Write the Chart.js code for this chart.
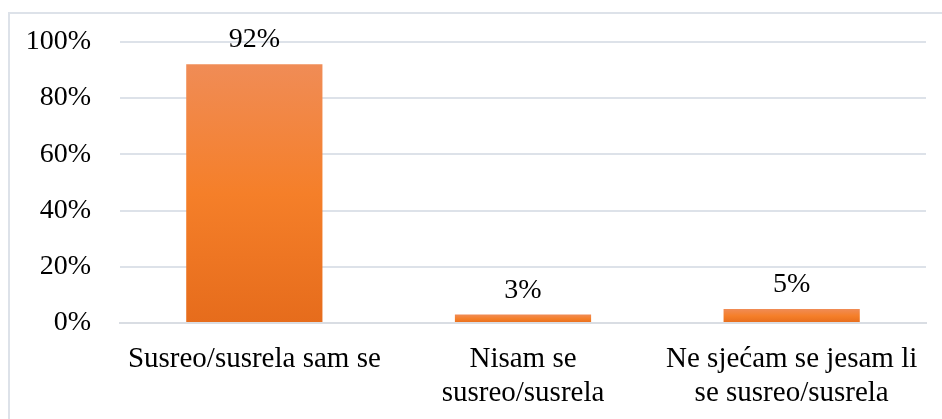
<!DOCTYPE html>
<html>
<head>
<meta charset="utf-8">
<script src="https://cdn.jsdelivr.net/npm/chart.js@4.4.1/dist/chart.umd.min.js"></script>
<style>
  html, body { margin: 0; padding: 0; background: #fff; overflow: hidden; }
  #frame {
    position: absolute; left: 8px; top: 12px; width: 1000px; height: 500px;
    border: 2px solid #dde2e9; box-sizing: border-box;
  }
  #wrap { position: absolute; left: 0; top: -4px; width: 942px; height: 423px; }
</style>
</head>
<body>
<div id="frame"></div>
<div id="wrap"><canvas id="chart"></canvas></div>
<script>
// chart data
const categories = [
    "Susreo/susrela sam se",
    ["Nisam se", "susreo/susrela"],
    ["Ne sjećam se jesam li", "se susreo/susrela"]
];
const values = [92, 3, 5];
const yTicks = [0, 20, 40, 60, 80, 100];

const fontFamily = "'Liberation Serif', 'Times New Roman', serif";

// gradient for each bar, from its own top to the baseline
function barGradient(context) {
    const chart = context.chart;
    if (!chart.chartArea || !chart.scales.y) return "#f47e2e";
    const y = chart.scales.y;
    const top = y.getPixelForValue(context.raw);
    const bottom = y.getPixelForValue(0);
    if (!isFinite(top) || bottom - top < 1) return "#f47e2e";
    const g = chart.ctx.createLinearGradient(0, top, 0, bottom);
    g.addColorStop(0, "#f08c56");
    g.addColorStop(0.5, "#f57f29");
    g.addColorStop(1, "#e66c1c");
    return g;
}

// value labels above the bars
const valueLabels = {
    id: "valueLabels",
    afterDatasetsDraw(chart) {
        const ctx = chart.ctx;
        const meta = chart.getDatasetMeta(0);
        ctx.save();
        ctx.font = "28px " + fontFamily;
        ctx.fillStyle = "#000";
        ctx.textAlign = "center";
        ctx.textBaseline = "alphabetic";
        meta.data.forEach((bar, i) => {
            ctx.fillText(values[i] + "%", bar.x, bar.y - 17);
        });
        ctx.restore();
    }
};

new Chart(document.getElementById("chart"), {
    type: "bar",
    data: {
        labels: categories,
        datasets: [{
            data: values,
            backgroundColor: barGradient,
            borderWidth: 0,
            categoryPercentage: 1,
            barPercentage: 0.507
        }]
    },
    options: {
        responsive: true,
        maintainAspectRatio: false,
        animation: false,
        layout: { padding: { left: 0, right: 16, top: 42, bottom: 0 } },
        plugins: { legend: { display: false }, tooltip: { enabled: false } },
        scales: {
            x: {
                afterFit(scale) { scale.height = 96; },
                grid: { display: false, drawTicks: false },
                border: { display: true, color: "#d9dde3", width: 2 },
                ticks: {
                    color: "#000",
                    font: { family: fontFamily, size: 29, lineHeight: 1.17 },
                    padding: 19,
                    maxRotation: 0,
                    autoSkip: false
                }
            },
            y: {
                min: 0,
                max: 100,
                afterBuildTicks(scale) {
                    scale.ticks = yTicks.map(v => ({ value: v }));
                },
                afterFit(scale) { scale.width = 120; },
                grid: { color: "#dde2e9", lineWidth: 2, drawTicks: false },
                border: { display: false },
                ticks: {
                    color: "#000",
                    font: { family: fontFamily, size: 28 },
                    padding: 29,
                    callback: v => v + "%"
                }
            }
        }
    },
    plugins: [valueLabels]
});
</script>
</body>
</html>
